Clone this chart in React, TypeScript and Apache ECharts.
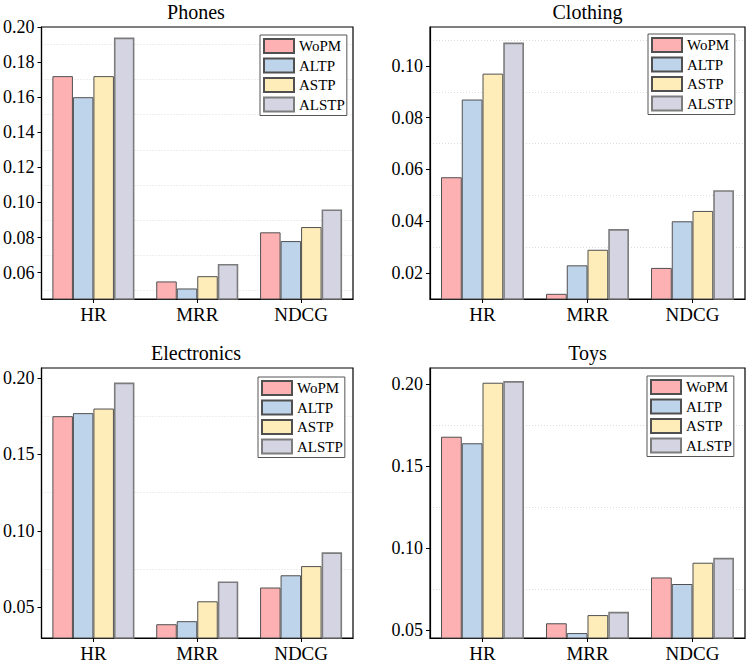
import React, { useEffect, useRef } from "react";
import * as echarts from "echarts";

const categories = ["HR", "MRR", "NDCG"];
const seriesNames = ["WoPM", "ALTP", "ASTP", "ALSTP"];

const phonesWoPM = [0.172, 0.055, 0.083];
const phonesALTP = [0.160, 0.051, 0.078];
const phonesASTP = [0.172, 0.058, 0.086];
const phonesALSTP = [0.194, 0.065, 0.096];

const clothingWoPM = [0.057, 0.012, 0.022];
const clothingALTP = [0.087, 0.023, 0.040];
const clothingASTP = [0.097, 0.029, 0.044];
const clothingALSTP = [0.109, 0.037, 0.052];

const electronicsWoPM = [0.175, 0.039, 0.063];
const electronicsALTP = [0.177, 0.041, 0.071];
const electronicsASTP = [0.180, 0.054, 0.077];
const electronicsALSTP = [0.197, 0.067, 0.086];

const toysWoPM = [0.168, 0.054, 0.082];
const toysALTP = [0.164, 0.048, 0.078];
const toysASTP = [0.201, 0.059, 0.091];
const toysALSTP = [0.202, 0.061, 0.094];

const phonesTicks = [0.06, 0.08, 0.10, 0.12, 0.14, 0.16, 0.18, 0.20];
const phonesMinor = [0.05, 0.07, 0.09, 0.11, 0.13, 0.15, 0.17, 0.19];
const clothingTicks = [0.02, 0.04, 0.06, 0.08, 0.10];
const clothingMinor = [0.03, 0.05, 0.07, 0.09, 0.11];
const electronicsTicks = [0.05, 0.10, 0.15, 0.20];
const electronicsMinor = [0.075, 0.125, 0.175];
const toysTicks = [0.05, 0.10, 0.15, 0.20];
const toysMinor = [0.075, 0.125, 0.175];

const panelTitles = ["Phones", "Clothing", "Electronics", "Toys"];

const FONT = '"Liberation Serif", "Times New Roman", serif';
const colors = ["#FEB1B2", "#BED4EA", "#FEECB9", "#D5D4E3"];
const borders = ["#505050", "#505050", "#505050", "#7c7c7c"];
const borderWidths = [1, 1, 1, 1.6];

const panels = [
  {
    title: panelTitles[0], data: [phonesWoPM, phonesALTP, phonesASTP, phonesALSTP],
    min: 0.045, max: 0.2, ticks: phonesTicks, minor: phonesMinor,
    grid: { left: 39, top: 27, width: 314, height: 272 }, legend: { left: 260, top: 35 },
  },
  {
    title: panelTitles[1], data: [clothingWoPM, clothingALTP, clothingASTP, clothingALSTP],
    min: 0.01, max: 0.115, ticks: clothingTicks, minor: clothingMinor,
    grid: { left: 430, top: 27, width: 315, height: 272 }, legend: { left: 648, top: 34 },
  },
  {
    title: panelTitles[2], data: [electronicsWoPM, electronicsALTP, electronicsASTP, electronicsALSTP],
    min: 0.03, max: 0.2065, ticks: electronicsTicks, minor: electronicsMinor,
    grid: { left: 39, top: 368, width: 314, height: 271 }, legend: { left: 258, top: 377 },
  },
  {
    title: panelTitles[3], data: [toysWoPM, toysALTP, toysASTP, toysALSTP],
    min: 0.045, max: 0.21, ticks: toysTicks, minor: toysMinor,
    grid: { left: 430, top: 368, width: 315, height: 271 }, legend: { left: 647, top: 376 },
  },
];

export default function App() {
  const ref = useRef<HTMLDivElement>(null);
  useEffect(() => {
    if (!ref.current) return;
    const chart = echarts.init(ref.current, undefined, { renderer: "svg" });
    const grids: any[] = [];
    const xAxes: any[] = [];
    const yAxes: any[] = [];
    const series: any[] = [];
    const legends: any[] = [];
    const graphics: any[] = [];
    panels.forEach((p, i) => {
      grids.push({
        ...p.grid,
        show: true,
        borderColor: "#000",
        borderWidth: 1.2,
        backgroundColor: "#fff",
      });
      xAxes.push({
        type: "category",
        gridIndex: i,
        data: categories,
        axisLine: { lineStyle: { color: "#000", width: 1.2 } },
        axisTick: { show: true, alignWithLabel: true, length: 4, inside: false, lineStyle: { color: "#000" } },
        axisLabel: { color: "#000", fontFamily: FONT, fontSize: 19, margin: 6 },
        splitLine: { show: false },
      });
      yAxes.push({
        type: "value",
        gridIndex: i,
        min: p.min,
        max: p.max,
        axisLine: { show: true, lineStyle: { color: "#000", width: 1.2 } },
        axisTick: { show: true, length: 4, inside: false, customValues: p.ticks, lineStyle: { color: "#000" } },
        axisLabel: {
          color: "#000", fontFamily: FONT, fontSize: 18, margin: 7,
          customValues: p.ticks,
          formatter: (v: number) => v.toFixed(2),
        },
        splitLine: { show: false },
      });
      yAxes.push({
        type: "value",
        gridIndex: i,
        min: p.min,
        max: p.max,
        position: "left",
        axisLine: { show: false },
        axisTick: { show: false, customValues: p.minor },
        axisLabel: { show: false, customValues: p.minor },
        splitLine: { show: true, lineStyle: { color: "#dcdcdc", type: [1, 2], width: 1 } },
      });
      p.data.forEach((vals, k) => {
        series.push({
          type: "bar",
          name: seriesNames[k],
          xAxisIndex: i,
          yAxisIndex: i * 2,
          data: vals,
          barGap: "0%",
          barCategoryGap: "21%",
          itemStyle: { color: colors[k], borderColor: borders[k], borderWidth: borderWidths[k] },
        });
      });
      legends.push({
        ...p.legend,
        orient: "vertical",
        data: seriesNames,
        selectedMode: false,
        icon: "rect",
        itemWidth: 30,
        itemHeight: 14,
        itemGap: 3.5,
        padding: [3, 2, 3, 3],
        borderColor: "#555",
        borderWidth: 1,
        backgroundColor: "#fff",
        textStyle: { color: "#000", fontFamily: FONT, fontSize: 15 },
      });
      graphics.push({
        type: "text",
        x: p.grid.left + p.grid.width / 2,
        y: p.grid.top - 15,
        style: {
          text: p.title,
          fill: "#000",
          fontFamily: FONT,
          fontSize: 20,
          fontWeight: "normal",
          textAlign: "center",
          textVerticalAlign: "middle",
        },
      });
    });
    chart.setOption({
      animation: false,
      backgroundColor: "#fff",
      grid: grids,
      xAxis: xAxes,
      yAxis: yAxes,
      series,
      legend: legends,
      graphic: graphics,
    });
    return () => chart.dispose();
  }, []);
  return (
    <div
      ref={ref}
      style={{ position: "absolute", left: 0, top: 0, width: 747, height: 663 }}
    />
  );
}
